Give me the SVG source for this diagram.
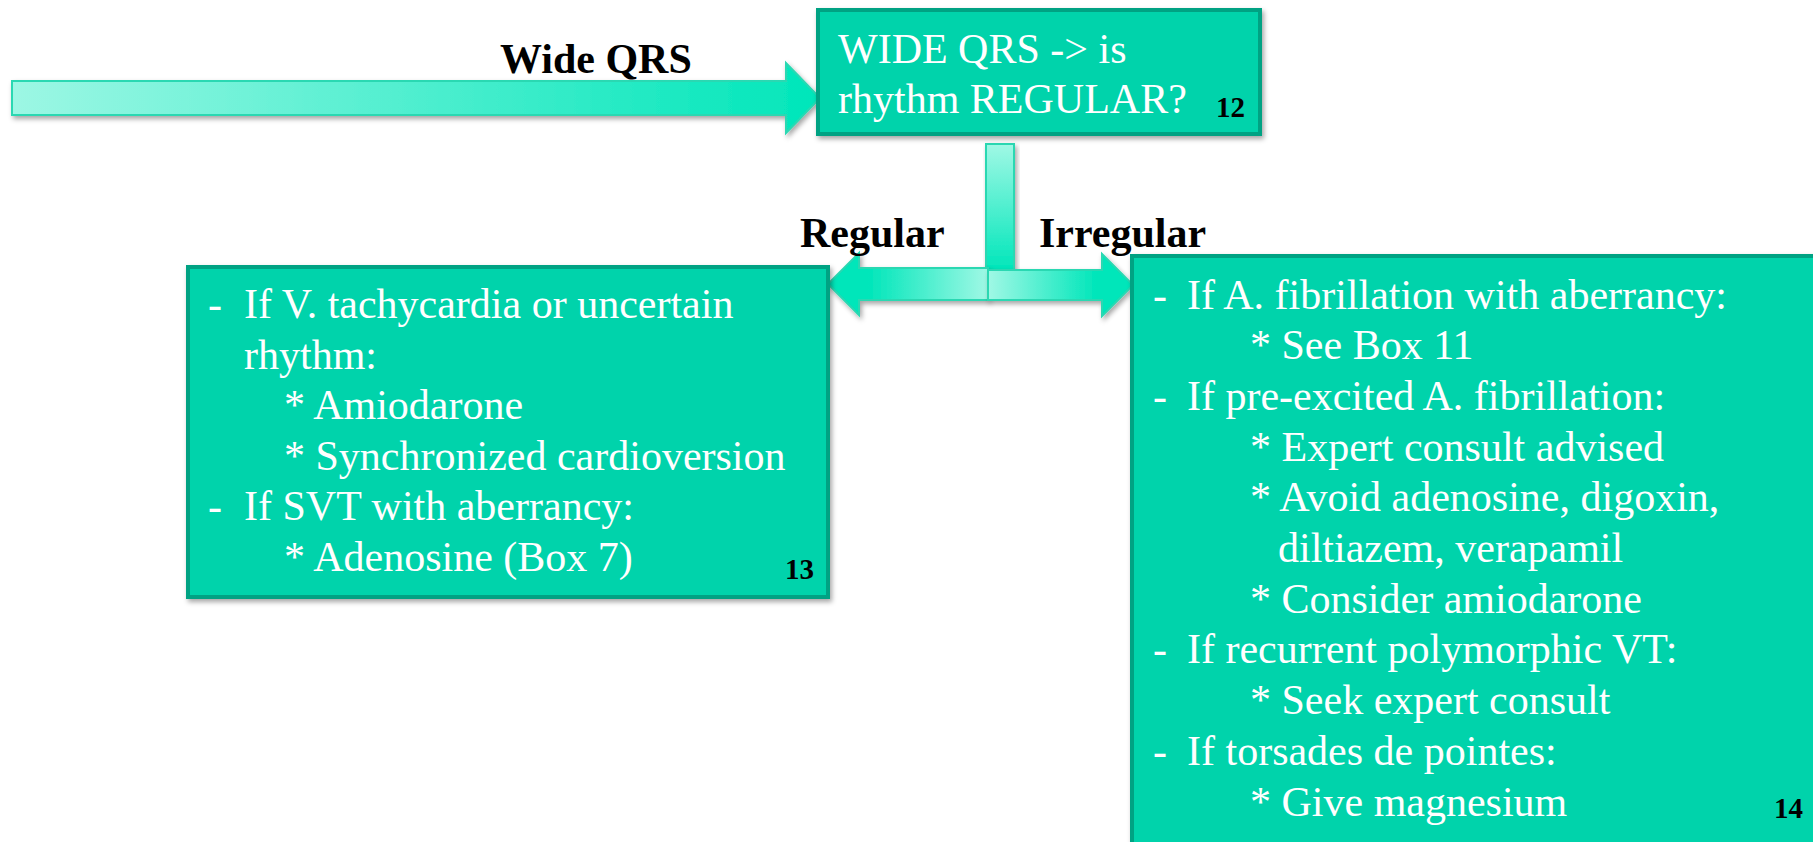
<svg xmlns="http://www.w3.org/2000/svg" width="1813" height="842" viewBox="0 0 1813 842">
<defs>
<style>
.box{fill:#00D3AB;stroke:#00A283;stroke-width:4}
.bt{font-family:"Liberation Serif","Times New Roman",serif;font-size:42px;fill:#FFFFFF}
.lbl{font-family:"Liberation Serif","Times New Roman",serif;font-size:42px;font-weight:bold;fill:#000000}
.num{font-family:"Liberation Serif","Times New Roman",serif;font-size:29px;font-weight:bold;fill:#000000}
.arr{stroke:#2AD8B2;stroke-width:2}
</style>
<filter id="sh" x="-10%" y="-10%" width="130%" height="140%">
<feDropShadow dx="2" dy="3" stdDeviation="2.5" flood-color="#000" flood-opacity="0.35"/>
</filter>
<linearGradient id="gMain" x1="0" y1="0" x2="1" y2="0">
<stop offset="0" stop-color="#9DF7E4"/>
<stop offset="1" stop-color="#00E6BA"/>
</linearGradient>
<linearGradient id="gV" x1="0" y1="0" x2="0" y2="1">
<stop offset="0" stop-color="#A0F8E5"/>
<stop offset="1" stop-color="#00E6BA"/>
</linearGradient>
<linearGradient id="gL" x1="1" y1="0" x2="0" y2="0">
<stop offset="0" stop-color="#A0F8E5"/>
<stop offset="0.75" stop-color="#00E6BA"/>
<stop offset="1" stop-color="#00E6BA"/>
</linearGradient>
<linearGradient id="gR" x1="0" y1="0" x2="1" y2="0">
<stop offset="0" stop-color="#A0F8E5"/>
<stop offset="0.75" stop-color="#00E6BA"/>
<stop offset="1" stop-color="#00E6BA"/>
</linearGradient>
</defs>
<rect width="1813" height="842" fill="#FFFFFF"/>

<g id="connectors">
<polygon class="arr" fill="url(#gMain)" filter="url(#sh)" points="12,81 786,81 786,63 820,98 786,133 786,115 12,115"/>
<rect class="arr" fill="url(#gV)" filter="url(#sh)" x="986" y="144" width="28" height="126"/>
<polygon class="arr" fill="url(#gL)" filter="url(#sh)" points="988,268 859,268 859,253 828,284 859,315 859,300 988,300"/>
<polygon class="arr" fill="url(#gR)" filter="url(#sh)" points="988,270 1102,270 1102,254 1133,285 1102,316 1102,300 988,300"/>
<text class="lbl" x="500" y="73">Wide QRS</text>
<text class="lbl" x="800" y="247">Regular</text>
<text class="lbl" x="1039" y="247">Irregular</text>
</g>

<g id="node12">
<rect class="box" filter="url(#sh)" x="818" y="10" width="442" height="124"/>
<text class="bt" x="838" y="63">WIDE QRS -&gt; is</text>
<text class="bt" x="838" y="113">rhythm REGULAR?</text>
<text class="num" x="1216" y="117">12</text>
</g>

<g id="node13">
<rect class="box" filter="url(#sh)" x="188" y="267" width="640" height="330"/>
<text class="bt" x="208" y="318">-</text>
<text class="bt" x="244" y="318">If V. tachycardia or uncertain</text>
<text class="bt" x="244" y="369">rhythm:</text>
<text class="bt" x="284" y="419">* Amiodarone</text>
<text class="bt" x="284" y="470">* Synchronized cardioversion</text>
<text class="bt" x="208" y="520">-</text>
<text class="bt" x="244" y="520">If SVT with aberrancy:</text>
<text class="bt" x="284" y="571">* Adenosine (Box 7)</text>
<text class="num" x="785" y="579">13</text>
</g>

<g id="node14">
<rect class="box" filter="url(#sh)" x="1132" y="256" width="720" height="640"/>
<text class="bt" x="1153" y="309">-</text>
<text class="bt" x="1187" y="309">If A. fibrillation with aberrancy:</text>
<text class="bt" x="1250" y="359">* See Box 11</text>
<text class="bt" x="1153" y="410">-</text>
<text class="bt" x="1187" y="410">If pre-excited A. fibrillation:</text>
<text class="bt" x="1250" y="461">* Expert consult advised</text>
<text class="bt" x="1250" y="511">* Avoid adenosine, digoxin,</text>
<text class="bt" x="1278" y="562">diltiazem, verapamil</text>
<text class="bt" x="1250" y="613">* Consider amiodarone</text>
<text class="bt" x="1153" y="663">-</text>
<text class="bt" x="1187" y="663">If recurrent polymorphic VT:</text>
<text class="bt" x="1250" y="714">* Seek expert consult</text>
<text class="bt" x="1153" y="765">-</text>
<text class="bt" x="1187" y="765">If torsades de pointes:</text>
<text class="bt" x="1250" y="816">* Give magnesium</text>
<text class="num" x="1774" y="818">14</text>
</g>
</svg>
